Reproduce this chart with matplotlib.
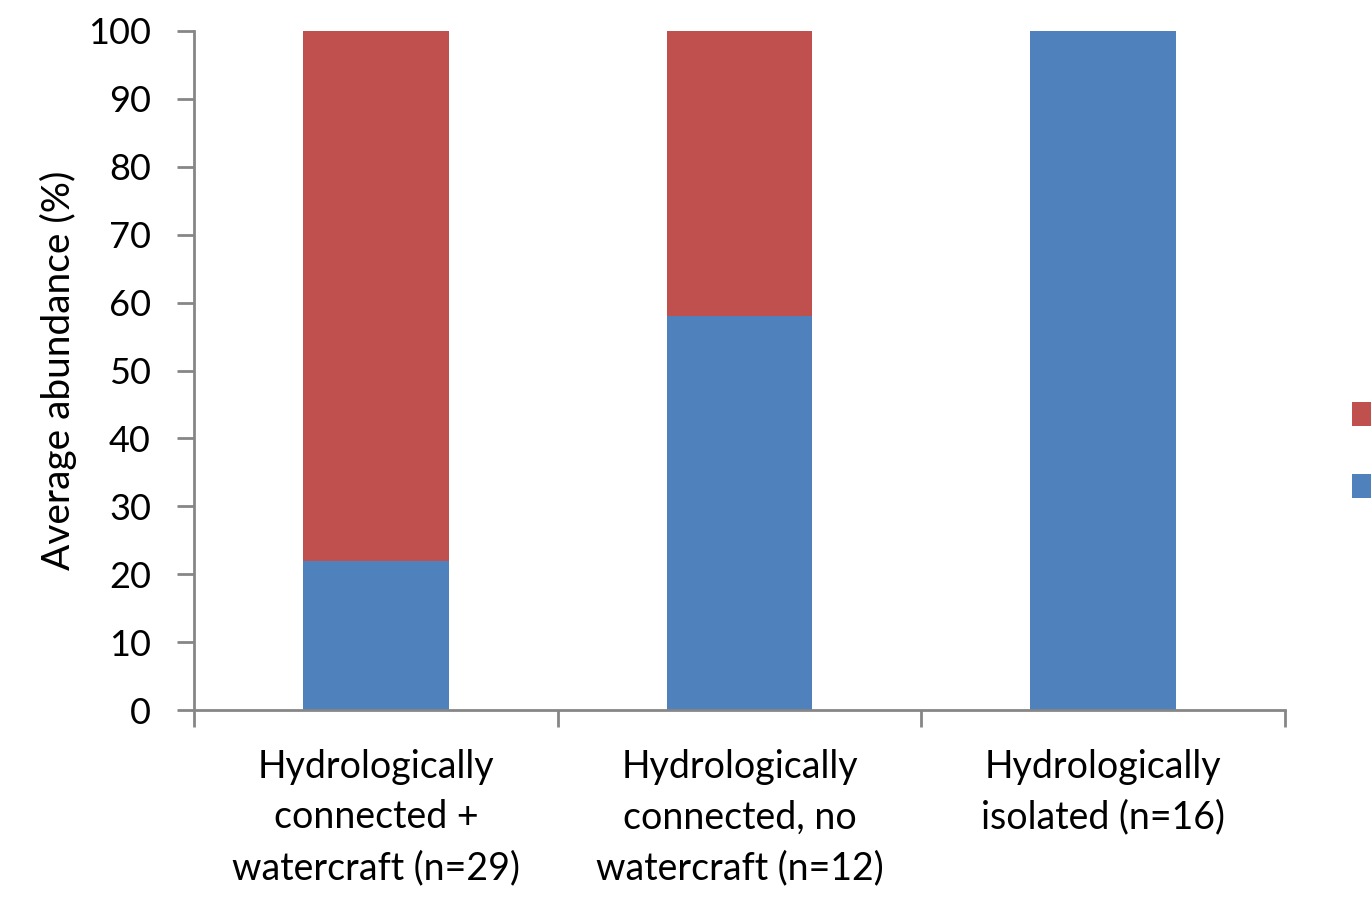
import numpy as np
import matplotlib.pyplot as plt

plt.rcParams['font.family'] = ['Lato', 'DejaVu Sans']

# dados
categorias = ['Hydrologically\nconnected +\nwatercraft (n=29)',
              'Hydrologically\nconnected, no\nwatercraft (n=12)',
              'Hydrologically\nisolated (n=16)']
serie_azul = [22, 58, 100]
serie_vermelha = [78, 42, 0]
nomes_series = ['Species B', 'Species A']

cor_azul = '#4f81bd'
cor_vermelha = '#c0504d'
cor_eixo = '#868686'

W, H = 1371, 899
fig = plt.figure(figsize=(W / 100, H / 100), dpi=100)
ax = fig.add_axes([194 / W, (H - 710) / H, (1285 - 194) / W, (710 - 31) / H])

x = np.arange(len(categorias))
b1 = ax.bar(x, serie_azul, width=0.4, color=cor_azul, label=nomes_series[1])
b2 = ax.bar(x, serie_vermelha, width=0.4, bottom=serie_azul, color=cor_vermelha, label=nomes_series[0])

ax.set_xlim(-0.5, len(categorias) - 0.5)
ax.set_ylim(0, 100)
ax.set_yticks(np.arange(0, 101, 10))
ax.set_xticks(x)
ax.set_xticklabels(categorias, fontsize=27, linespacing=1.5)
ax.tick_params(axis='x', length=0, pad=28)
ax.set_xticks(np.arange(-0.5, len(categorias)), minor=True)
ax.tick_params(axis='x', which='minor', length=12, width=2, color=cor_eixo)
ax.tick_params(axis='y', length=12, width=2, color=cor_eixo, labelsize=26, pad=19)

for s in ['top', 'right']:
    ax.spines[s].set_visible(False)
for s in ['left', 'bottom']:
    ax.spines[s].set_color(cor_eixo)
    ax.spines[s].set_linewidth(2)

ax.set_ylabel('Average abundance (%)', fontsize=28, labelpad=8)

# legenda cortada na borda direita (texto fica fora da figura)
leg = fig.legend([b2, b1], nomes_series, loc='upper left',
                 bbox_to_anchor=(1352 / W, (H - 400) / H), frameon=False,
                 fontsize=25, handlelength=0.8, handleheight=0.7,
                 borderpad=0, borderaxespad=0, labelspacing=1.15, handletextpad=1.5)

fig.savefig('out.png', dpi=100)
